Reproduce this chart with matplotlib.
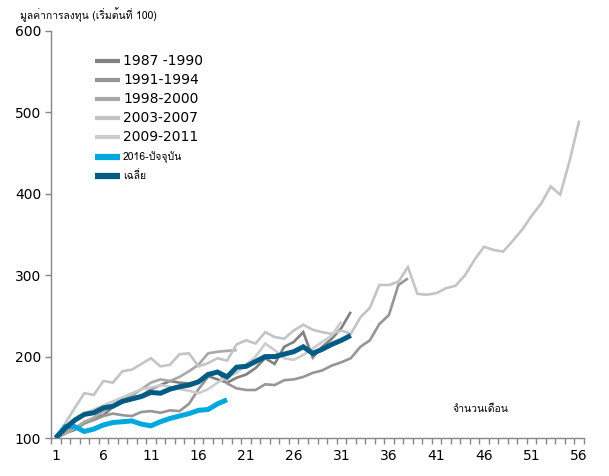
import matplotlib
matplotlib.use('Agg')
import matplotlib.pyplot as plt
from matplotlib import font_manager as fm
from matplotlib.ft2font import FT2Font
from matplotlib.lines import Line2D
from matplotlib.ticker import FixedLocator

# ข้อมูล (ดัชนี เริ่มต้นที่ 100)
s1987 = [100, 106, 110, 118, 124, 128, 138, 146, 150, 152, 160, 165, 170, 168, 167, 170,
         176, 172, 168, 174, 178, 186, 198, 191, 212, 218, 230, 199, 212, 222, 235, 255]
s1991 = [100, 107, 112, 118, 122, 127, 130, 128, 127, 132, 133, 131, 134, 133, 142, 160,
         175, 182, 167, 161, 159, 159, 166, 165, 171, 172, 175, 180, 183, 189, 193, 198,
         212, 220, 240, 251, 288, 296]
s1998 = [100, 105, 112, 120, 125, 133, 140, 148, 152, 160, 168, 172, 170, 175, 182, 190,
         204, 206, 207, 208]
s2003 = [100, 118, 137, 155, 153, 170, 168, 182, 184, 191, 198, 188, 190, 203, 204, 188,
         192, 198, 195, 215, 220, 216, 230, 224, 222, 232, 239, 233, 230, 228, 232, 228,
         248, 260, 288, 288, 292, 310, 277, 276, 278, 284, 287, 300, 319, 335, 331, 329,
         342, 356, 373, 388, 409, 399, 441, 490]
s2009 = [100, 110, 120, 130, 135, 140, 145, 150, 155, 160, 162, 165, 163, 160, 158, 155,
         160, 168, 175, 180, 190, 200, 216, 208, 198, 196, 202, 210, 218, 226, 243]
s2016 = [100, 114, 114, 108, 111, 116, 119, 120, 121, 117, 115, 120, 124, 127, 130, 134,
         135, 142, 147]
s_avg = [100, 112, 122, 129, 131, 137, 139, 145, 148, 151, 156, 155, 160, 163, 165, 169,
         178, 181, 175, 187, 188, 194, 200, 200, 203, 206, 212, 204, 209, 215, 220, 226]

labels = ['1987 -1990', '1991-1994', '1998-2000', '2003-2007', '2009-2011',
          '2016-ปัจจุบัน', 'เฉลี่ย']
series = [s1987, s1991, s1998, s2003, s2009, s2016, s_avg]
colors = ['#808080', '#969696', '#a8a8a8', '#c2c4c6', '#cccccc', '#00a8e0', '#005c84']
widths = [1.9, 1.9, 1.9, 1.9, 1.9, 3.6, 3.6]

n_months = 56
xticks = list(range(1, n_months + 1, 5))


def find_thai_font():
    # หาฟอนต์ที่มีอักษรไทย
    found = []
    for f in fm.fontManager.ttflist:
        try:
            if 0x0E01 in FT2Font(f.fname).get_charmap():
                found.append(f.name)
        except Exception:
            pass
    for pref in ['Tahoma', 'Loma', 'Garuda', 'Noto Sans Thai', 'Sarabun', 'Umpush']:
        if pref in found:
            return pref
    return found[0] if found else 'DejaVu Sans'


thai_font = find_thai_font()
plt.rcParams['font.family'] = ['DejaVu Sans']
thai_family = [thai_font, 'DejaVu Sans']

W, H = 609, 476
fig = plt.figure(figsize=(W / 100, H / 100), dpi=100)
ax = fig.add_axes([51 / W, 1 - 438 / H, (584 - 51) / W, (438 - 31) / H])

for s, c, w in zip(series, colors, widths):
    ax.plot(range(1, len(s) + 1), s, color=c, lw=w, solid_joinstyle='miter',
            solid_capstyle='butt')

ax.set_xlim(0.5, n_months + 0.5)
ax.set_ylim(100, 600)
ax.set_yticks(range(100, 601, 100))
ax.set_xticks(xticks)
ax.xaxis.set_minor_locator(FixedLocator([i + 0.5 for i in range(0, n_months + 1)]))

for side in ['top', 'right']:
    ax.spines[side].set_visible(False)
for side in ['left', 'bottom']:
    ax.spines[side].set_color('#868686')
    ax.spines[side].set_linewidth(1.0)

ax.tick_params(axis='y', direction='out', length=4, width=1, color='#868686',
               labelsize=10, pad=3)
ax.tick_params(axis='x', which='major', length=0, labelsize=10, pad=8)
ax.tick_params(axis='x', which='minor', direction='out', length=4, width=1,
               color='#868686')

# ตำนาน (วางเองทีละแถว)
row_y = [61, 80, 99, 118, 137, 157, 176]
for i, (lab, c) in enumerate(zip(labels, colors)):
    yy = 1 - row_y[i] / H
    fig.add_artist(Line2D([95 / W, 120 / W], [yy, yy], color=c,
                          lw=3 if i < 5 else 4.5, solid_capstyle='butt'))
    if i < 5:
        fig.text(123 / W, yy, lab, fontsize=10, va='center', ha='left')
    else:
        fig.text(123 / W, yy, lab, family=thai_family, fontsize=7.5,
                 va='center', ha='left')

fig.text(20 / W, 1 - 15 / H, 'มูลค่าการลงทุน (เริ่มต้นที่ 100)', family=thai_family,
         fontsize=7.5, va='center', ha='left')
fig.text(480 / W, 1 - 409 / H, 'จำนวนเดือน', family=thai_family,
         fontsize=7.5, va='center', ha='center')

fig.savefig('out.png', dpi=100)
